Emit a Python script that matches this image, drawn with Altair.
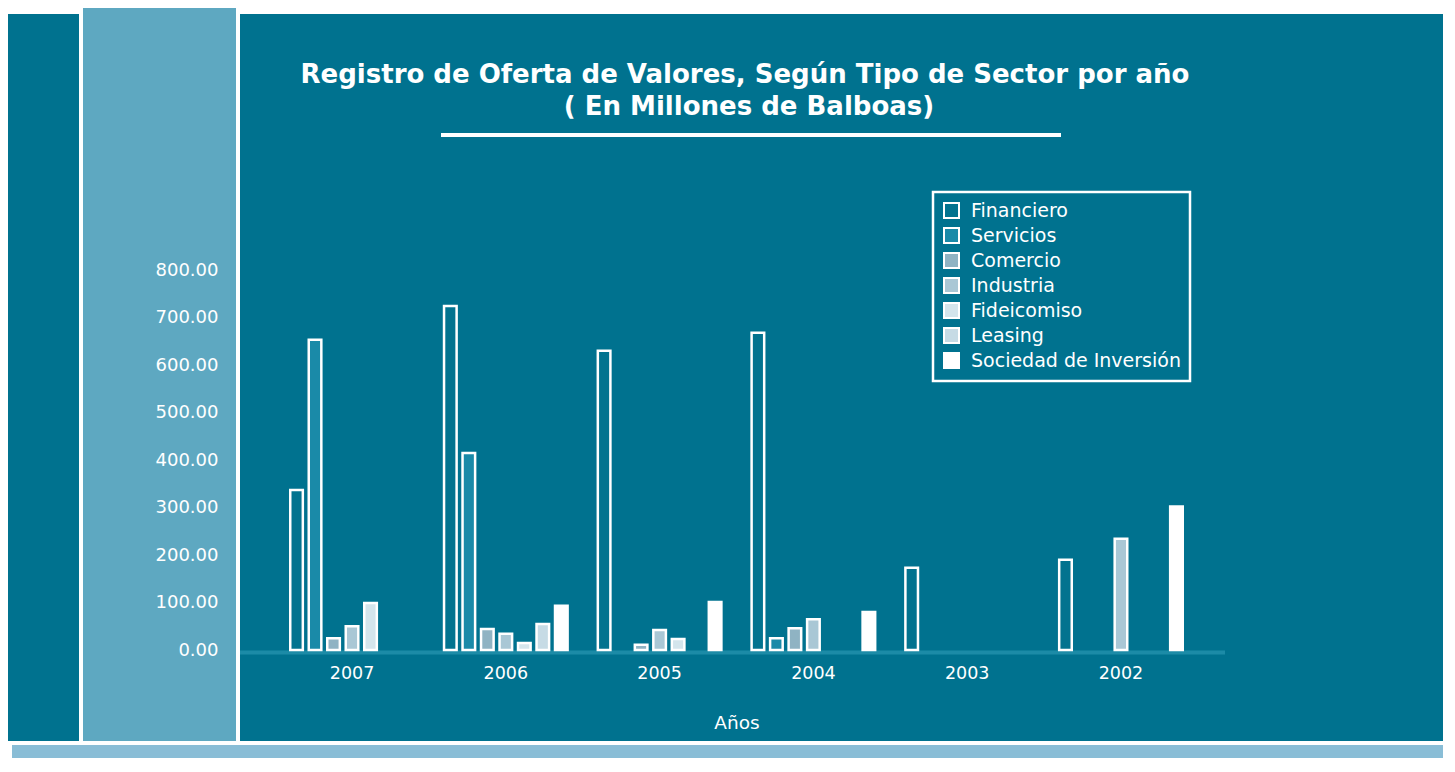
import altair as alt
import pandas as pd

years = ["2007", "2006", "2005", "2004", "2003", "2002"]
sectors = ["Financiero", "Servicios", "Comercio", "Industria",
           "Fideicomiso", "Leasing", "Sociedad de Inversión"]

financiero = [337, 724, 630, 668, 173, 190]
servicios = [653, 415, 0, 25, 0, 0]
comercio = [25, 44, 11, 46, 0, 0]
industria = [50, 34, 42, 65, 0, 234]
fideicomiso = [99, 15, 23, 0, 0, 0]
leasing = [0, 55, 0, 0, 0, 0]
sociedad = [0, 93, 101, 80, 0, 302]

y_ticks = [0, 100, 200, 300, 400, 500, 600, 700, 800]

colors = ["#02738f", "#1a8aa8", "#8fb3c3", "#a9c7d5", "#d4e5ec", "#c6dbe5", "#ffffff"]

DARK = "#00728f"
LIGHT = "#5ea8c1"
STRIP = "#89bdd6"
BASE = "#1c8ba7"

rows = []
for s, vals in zip(sectors, [financiero, servicios, comercio, industria,
                             fideicomiso, leasing, sociedad]):
    for yr, v in zip(years, vals):
        if v > 0:
            rows.append({"year": yr, "sector": s, "value": v})
df = pd.DataFrame(rows)

W, H = 993, 380
PAD_L, PAD_T = 232, 262
TOTAL_W, TOTAL_H = 1435, 750
OX, OY = 8 + PAD_L, 8 + PAD_T   # page position of plot origin

one = alt.Data(values=[{"a": 1}])


def rect(x1, x2, y1, y2, color):
    return alt.Chart(one).mark_rect(color=color).encode(
        x=alt.value(x1 - OX), x2=alt.value(x2 - OX),
        y=alt.value(y1 - OY), y2=alt.value(y2 - OY))


def text(s, x, y, size, weight="normal"):
    return alt.Chart(one).mark_text(
        text=s, color="white", fontSize=size, fontWeight=weight,
        font="DejaVu Sans", align="center", baseline="middle").encode(
        x=alt.value(x - OX), y=alt.value(y - OY))


bg = [
    rect(8, 1449, 14, 741, DARK),
    rect(79, 240, 4, 741, "white"),
    rect(83, 236, 4, 741, LIGHT),
    rect(12, 1447, 745, 790, STRIP),
    rect(441, 1061, 133, 137, "white"),
]

title1 = text("Registro de Oferta de Valores, Según Tipo de Sector por año", 745, 75, 26, "bold")
title2 = text("( En Millones de Balboas)", 749, 107, 26, "bold")

baseline = alt.Chart(one).mark_rule(color=BASE, strokeWidth=4, yOffset=2.5).encode(
    y=alt.datum(0), x=alt.value(0), x2=alt.value(985))

bars = alt.Chart(df).mark_bar(stroke="white", strokeWidth=2.5).encode(
    x=alt.X("year:N", sort=years,
            scale=alt.Scale(domain=years, paddingInner=0.158, paddingOuter=0.3075),
            axis=alt.Axis(title="Años", labelColor="white", labelFontSize=17.5,
                          labelPadding=14, labelAngle=0, ticks=False, domain=False,
                          titleColor="white", titleFontSize=18.5, titleFontWeight="normal",
                          titlePadding=32, zindex=1)),
    xOffset=alt.XOffset("sector:N", sort=sectors,
                        scale=alt.Scale(domain=sectors, paddingInner=0.32, paddingOuter=0.16)),
    y=alt.Y("value:Q", scale=alt.Scale(domain=[0, 800], nice=False),
            axis=alt.Axis(title=None, values=y_ticks, format=".2f", labelColor="white",
                          labelFontSize=18, labelPadding=22, ticks=False, domain=False,
                          grid=False, zindex=1)),
    fill=alt.Fill("sector:N", sort=sectors,
                  scale=alt.Scale(domain=sectors, range=colors),
                  legend=alt.Legend(title=None, orient="none", legendX=693, legendY=-78,
                                    labelColor="white", labelFontSize=19, labelLimit=400,
                                    symbolType="square", symbolSize=225,
                                    symbolStrokeColor="white", symbolStrokeWidth=2,
                                    strokeColor="white", padding=9, rowPadding=2,
                                    labelOffset=10, zindex=1)),
)

chart = alt.layer(*bg, title1, title2, baseline, bars).properties(
    width=W, height=H,
    padding={"left": PAD_L, "top": PAD_T, "right": TOTAL_W - PAD_L - W,
             "bottom": TOTAL_H - PAD_T - H},
    autosize=alt.AutoSizeParams(type="none"),
    background="white",
).configure_view(stroke=None).configure_axis(
    labelFont="DejaVu Sans", titleFont="DejaVu Sans"
).configure_legend(labelFont="DejaVu Sans", strokeWidth=2.5)

chart.save("out.html", embed_options={"renderer": "svg", "actions": False})
